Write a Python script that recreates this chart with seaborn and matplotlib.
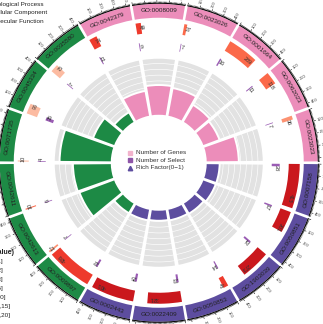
import numpy as np
import matplotlib.pyplot as plt
import seaborn as sns

# GO terms, clockwise starting at the upper-left pink sector
go_ids = ["GO:0042379", "GO:0008009", "GO:0023026", "GO:0001664", "GO:0062023", "GO:0023023",
          "GO:0007158", "GO:0050851", "GO:1903039", "GO:0050853", "GO:0022409", "GO:0002443",
          "GO:0009897", "GO:0042613", "GO:0042611", "GO:0071735", "GO:0045334", "GO:0035580"]
ontology = ["MF"] * 6 + ["BP"] * 6 + ["CC"] * 6
n_genes = [74, 49, 27, 289, 118, 36, 415, 201, 273, 47, 321, 401, 426, 17, 10, 10, 96, 75]
n_select = [11, 9, 7, 16, 11, 7, 28, 17, 22, 14, 23, 25, 22, 7, 6, 4, 35, 7]
rich_factor = [0.45, 0.53, 0.5, 0.35, 0.31, 0.57,
               0.24, 0.24, 0.21, 0.2, 0.19, 0.2,
               0.2, 0.65, 0.67, 0.9, 0.4, 0.2]
p_bin = [4, 4, 3, 3, 3, 2, 5, 5, 5, 4, 5, 5, 4, 2, 3, 1, 1, 1]
p_labels = ["[0,1]", "(1,2]", "(2,3]", "(3,5]", "(5,10]", "(10,15]", "(15,20]"]
onto_names = ["Biological Process", "Cellular Component", "Molecular Function"]

sns.set_style("white")
plt.rcParams['font.family'] = ['Liberation Sans', 'DejaVu Sans']

onto_col = {"BP": "#5D4D9F", "CC": "#1D8A45", "MF": "#EC8DBA"}
p_cols = sns.color_palette("Reds", 7)

W, H = 323, 324
cx, cy = 158.75, H - 162.75
R = 190
fig = plt.figure(figsize=(W / 100, H / 100), dpi=100)
ax = fig.add_axes([(cx - R) / W, (cy - R) / H, 2 * R / W, 2 * R / H], projection='polar')
ax.set_theta_zero_location('N')
ax.set_theta_direction(-1)
ax.set_ylim(0, R)
ax.axis('off')

XMAX = 430.0
span = 19.0
starts = [330.5 + 20 * i for i in range(len(go_ids))]


def ang(i, x):
    return starts[i] + x / XMAX * span


def tangential(deg):
    d = deg % 360
    return 180 - d if 90 < d < 270 else -d


for i, go in enumerate(go_ids):
    t0 = np.radians(starts[i])
    col = onto_col[ontology[i]]
    # outer label ring
    ax.bar(t0, 14, width=np.radians(span), bottom=145, align='edge', color=col, linewidth=0)
    mid = ang(i, XMAX / 2)
    ax.text(np.radians(mid), 152, go, rotation=tangential(mid), rotation_mode='anchor',
            ha='center', va='center', fontsize=4.6, color='#222222')
    # axis line and ticks
    th = np.radians(np.linspace(starts[i], starts[i] + span, 60))
    ax.plot(th, np.full_like(th, 159.5), color='black', lw=0.7)
    for v in range(0, 431, 10):
        tl = 3.0 if v % 100 == 0 else 1.5
        a = np.radians(ang(i, v))
        ax.plot([a, a], [159.5, 159.5 + tl], color='black', lw=0.4)
    for v in range(100, 401, 100):
        a = ang(i, v)
        d = a % 360
        rot = 90 - d if d < 180 else 270 - d
        ax.text(np.radians(a), 167.5, str(v), rotation=rot, rotation_mode='anchor',
                ha='center', va='center', fontsize=3.0, color='#333333')

    # number of genes track
    ax.bar(t0, 11, width=np.radians(n_genes[i] / XMAX * span), bottom=130, align='edge',
           color=p_cols[p_bin[i]], linewidth=0)
    xt = n_genes[i] + 20 - 0.25 * n_genes[i]
    ax.text(np.radians(ang(i, xt)), 135.5, str(n_genes[i]), rotation=-ang(i, xt),
            rotation_mode='anchor', ha='center', va='center', fontsize=4.0, color='#333333')

    # number of select track
    ax.bar(t0, 8, width=np.radians(max(n_select[i], 8) / XMAX * span), bottom=113,
           align='edge', color='#9A5CB4', linewidth=0)
    xs = n_select[i] + 18
    ax.text(np.radians(ang(i, xs)), 117, str(n_select[i]), rotation=-ang(i, xs),
            rotation_mode='anchor', ha='center', va='center', fontsize=4.0, color='#333333')

    # rich factor track with grey background and faint grid
    ax.bar(t0, 58, width=np.radians(span), bottom=47, align='edge', color='#E2E2E2',
           edgecolor='white', linewidth=1.4, zorder=1)
    for k in range(1, 10):
        ax.plot(th, np.full_like(th, 47 + 5.8 * k), color='white', lw=0.45, zorder=1.5)
    ax.bar(t0, 58 * rich_factor[i], width=np.radians(span), bottom=47, align='edge',
           color=col, edgecolor='white', linewidth=1.4, zorder=2)

# centre legend
items = [("Number of Genes", "s", "#F2B3CC"), ("Number of Select", "s", "#8E55A8"),
         ("Rich Factor(0\u22121)", "^", "#5D4D9F")]
for k, (lab, mk, c) in enumerate(items):
    y = 1 - (153 + 7.3 * k) / H
    fig.lines.append(plt.Line2D([130 / W], [y], marker=mk, color=c, markersize=3.2,
                                linestyle='none', transform=fig.transFigure))
    fig.text(136 / W, y, lab, fontsize=4.6, va='center', ha='left', color='#333333')

# ontology legend (partly outside the frame)
for k, name in enumerate(onto_names):
    fig.text([44, 47, 44][k] / W, 1 - (4.5 + 8.3 * k) / H, name, fontsize=4.6,
             ha='right', va='center', color='#222222')

# p-value legend (partly outside the frame)
fig.text(15 / W, 1 - 252 / H, "-log10(Pvalue)", fontsize=5.0, fontweight='bold',
         ha='right', va='center', color='#222222')
ends = [3, 3, 3, 3, 6, 11, 11]
for k, lab in enumerate(p_labels):
    fig.text(ends[k] / W, 1 - (262 + 8.9 * k) / H, lab, fontsize=4.6, ha='right',
             va='center', color='#222222')

fig.savefig("out.png", dpi=100)
